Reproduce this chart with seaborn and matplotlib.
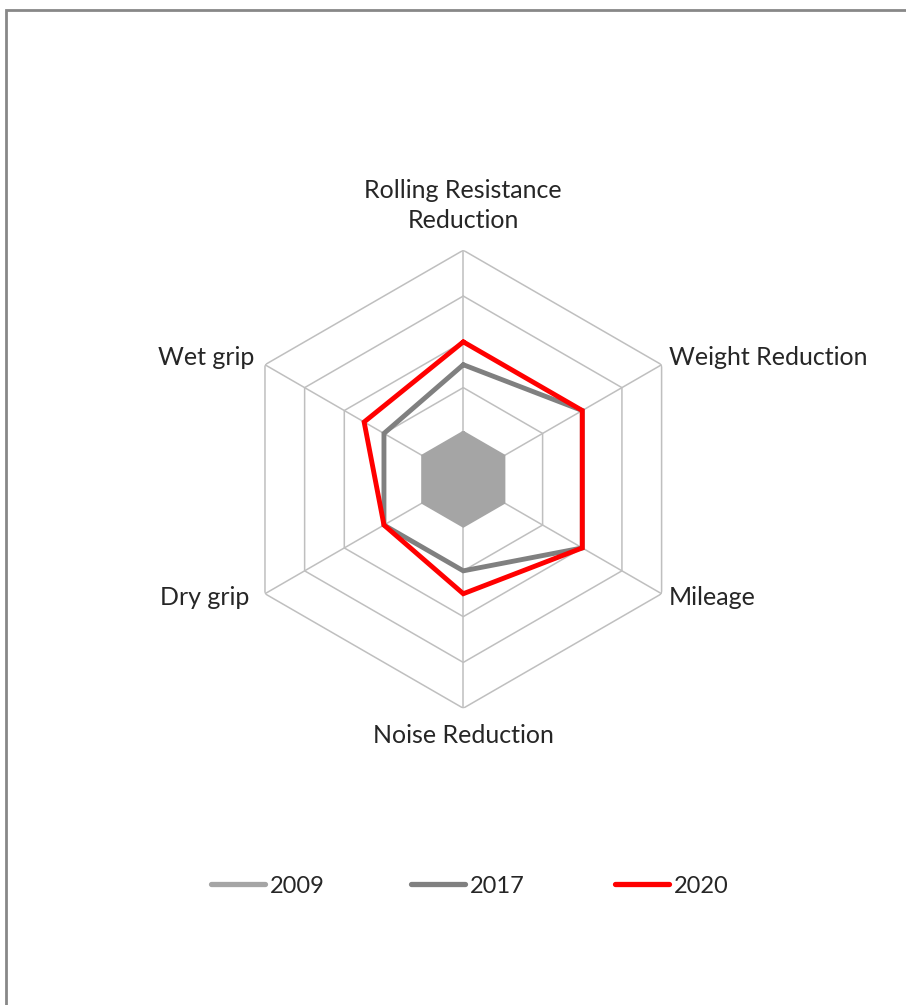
import numpy as np
import pandas as pd
import matplotlib
matplotlib.use("Agg")
import matplotlib.pyplot as plt
import seaborn as sns
from matplotlib.lines import Line2D
from matplotlib.patches import Rectangle

sns.set_theme(style="white")
plt.rcParams["font.family"] = ["Lato", "DejaVu Sans"]

# Tyre performance scores per criterion (scale 0-5)
categories = ["Rolling Resistance\nReduction", "Weight Reduction", "Mileage",
              "Noise Reduction", "Dry grip", "Wet grip"]
scores_2009 = [1, 1, 1, 1, 1, 1]
scores_2017 = [2.5, 3, 3, 2, 2, 2]
scores_2020 = [3, 3, 3, 2.5, 2, 2.5]
years = ["2009", "2017", "2020"]
colors = {"2009": "#a5a5a5", "2017": "#808080", "2020": "#ff0000"}
r_max = 5
ring_values = [1, 2, 3, 4, 5]

n = len(categories)
angles = np.arange(n) * 2 * np.pi / n

rows = []
for year, vals in zip(years, [scores_2009, scores_2017, scores_2020]):
    closed_a = list(angles) + [angles[0]]
    closed_v = list(vals) + [vals[0]]
    for i, (a, v) in enumerate(zip(closed_a, closed_v)):
        rows.append({"year": year, "order": i, "theta": a, "score": v})
df = pd.DataFrame(rows)

fig = plt.figure(figsize=(9.06, 10.05), dpi=100)
ax = fig.add_axes([0.2586, 0.2953, 0.5055, 0.4557], projection="polar")
ax.set_theta_offset(np.pi / 2)
ax.set_theta_direction(-1)
ax.set_ylim(0, r_max)
ax.grid(False)
ax.spines["polar"].set_visible(False)
ax.set_xticks([])
ax.set_yticks([])
ax.set_facecolor("none")

# hexagonal grid rings and spokes
ring_a = list(angles) + [angles[0]]
for rv in ring_values:
    ax.plot(ring_a, [rv] * (n + 1), color="#bfbfbf", lw=1.1, zorder=1)
for a in angles:
    ax.plot([a, a], [0, r_max], color="#bfbfbf", lw=1.1, zorder=1)

# 2009 area
d09 = df[df.year == "2009"]
ax.fill(d09.theta, d09.score, color=colors["2009"], lw=0, zorder=2)

for year in years:
    sub = df[df.year == year]
    sns.lineplot(data=sub, x="theta", y="score", sort=False, ax=ax,
                 color=colors[year], lw=3.5, zorder=3, legend=False,
                 solid_joinstyle="miter", estimator=None)
ax.set_xlabel("")
ax.set_ylabel("")
ax.set_ylim(0, r_max)

# category labels
fs = 18
label_offsets = [
    ((0, 18), "center", "bottom"),
    ((7, 7), "left", "center"),
    ((7, -4), "left", "center"),
    ((0, -16), "center", "top"),
    ((-16, -4), "right", "center"),
    ((-11, 7), "right", "center"),
]
for a, lab, (off, ha, va) in zip(angles, categories, label_offsets):
    ax.annotate(lab, xy=(a, r_max), xytext=off, textcoords="offset pixels",
                ha=ha, va=va, fontsize=fs, color="#262626",
                linespacing=1.4, annotation_clip=False)

# legend entries, each anchored at its own left edge
legend_fs = 17
legend_x = [211 / 906, 411 / 906, 615 / 906]
for year, lx in zip(years, legend_x):
    h = Line2D([0], [0], color=colors[year], lw=3.8, solid_capstyle="round")
    fig.legend([h], [year], loc="center left",
               bbox_to_anchor=(lx, (1005 - 886) / 1005),
               frameon=False, fontsize=legend_fs, handlelength=2.3,
               handletextpad=0.2, borderpad=0, borderaxespad=0,
               labelcolor="#262626")

# outer chart frame
fig.patches.append(Rectangle((6 / 906, -0.01), 1.2, (1005 - 10) / 1005 + 0.01,
                             transform=fig.transFigure, fill=False,
                             edgecolor="#888888", lw=2, zorder=10))

fig.savefig("out.png", dpi=100, facecolor="white")
